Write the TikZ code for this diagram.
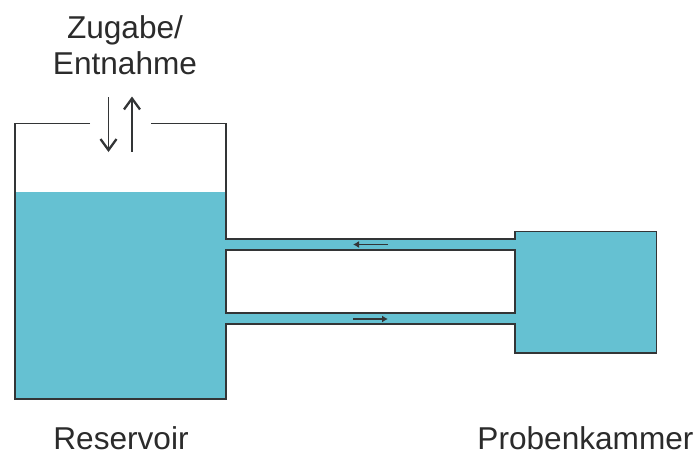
\documentclass[tikz,border=0pt]{standalone}
\usepackage{fontspec}
\setmainfont{Liberation Sans}
\usetikzlibrary{arrows.meta}
\definecolor{water}{HTML}{65C1D2}
\definecolor{ink}{HTML}{333536}
\definecolor{labelink}{HTML}{2B2B2B}
\tikzset{
  px/.style={x=1pt,y=-1pt},
  wall/.style={draw=ink,line width=1.5pt,line join=miter},
  lbl/.style={font=\fontsize{31.6pt}{35.5pt}\selectfont,text=labelink,align=center,inner sep=0pt},
  bigarrow/.style={draw=ink,line width=1.5pt,-{Straight Barb[length=11pt,width=16pt,line width=2.3pt]}},
  smallarrow/.style={draw=ink,line width=1.4pt,-{Latex[length=6pt,width=7pt]}}
}
\begin{document}
\begin{tikzpicture}[px]
\useasboundingbox (0,0) rectangle (697,451);
% water
\fill[water] (15,192) -- (226,192) -- (226,239) -- (515,239) -- (515,231.5) -- (656.5,231.5)
  -- (656.5,353) -- (515,353) -- (515,324) -- (226,324) -- (226,399) -- (15,399) -- cycle;
\fill[white] (226,250) rectangle (515,313);
% reservoir and chamber outline
\draw[wall] (90,123.5) -- (15,123.5) -- (15,399) -- (226,399) -- (226,324) -- (515,324) -- (515,353)
  -- (656.5,353) -- (656.5,231.5) -- (515,231.5) -- (515,239) -- (226,239) -- (226,123.5) -- (151,123.5);
\draw[wall] (226,250) -- (226,313) -- (515,313) -- (515,250) -- cycle;
% arrows
\coordinate (inTop) at (108.5,97);
\coordinate (inEnd) at (108.5,152);
\coordinate (outBot) at (132,151.5);
\coordinate (outEnd) at (132,96.5);
\draw[bigarrow] (inTop) -- (inEnd);
\draw[bigarrow] (outBot) -- (outEnd);
\coordinate (backA) at (388,244.5);
\coordinate (backB) at (353,244.5);
\coordinate (foreA) at (353,319);
\coordinate (foreB) at (388,319);
\draw[smallarrow] (backA) -- (backB);
\draw[smallarrow] (foreA) -- (foreB);
% labels
\node[lbl] (add) at (125,45) {Zugabe/\\Entnahme};
\node[lbl,anchor=base] (res) at (121,449) {Reservoir};
\node[lbl,anchor=base] (cham) at (585.5,449) {Probenkammer};
\end{tikzpicture}
\end{document}
